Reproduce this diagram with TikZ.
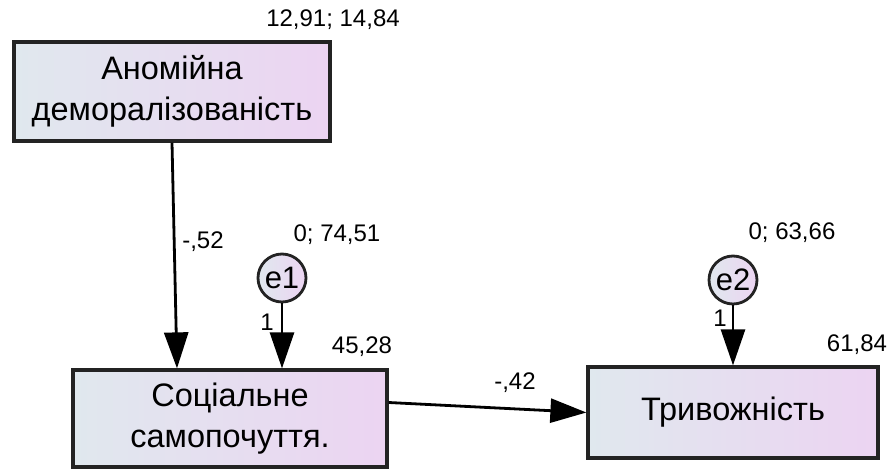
\documentclass[tikz,border=0pt]{standalone}
\usepackage{fontspec}
\setmainfont{Liberation Sans}
\usetikzlibrary{arrows.meta,positioning}

\definecolor{boxleft}{RGB}{224,232,238}
\definecolor{boxright}{RGB}{236,212,242}
\definecolor{edgegray}{RGB}{35,35,35}

\tikzset{
  varbox/.style={draw=edgegray, line width=3.2pt, left color=boxleft, right color=boxright,
    align=center, inner sep=0pt, font=\fontsize{32.5}{41}\selectfont},
  errnode/.style={circle, draw=edgegray, line width=2.8pt, left color=boxleft, right color=boxright,
    minimum size=48pt, inner sep=0pt, font=\fontsize{31}{32}\selectfont},
  path/.style={line width=2.8pt, -{Triangle[length=36pt,width=24pt]}},
  est/.style={font=\fontsize{24}{26}\selectfont, inner sep=0pt}
}

\begin{document}
\begin{tikzpicture}[x=1pt,y=-1pt]
            \useasboundingbox (0,0) rectangle (892,470);

            % observed variables
            \node[varbox, minimum width=316pt, minimum height=99pt] (anom) at (172,91.5)
              {Аномійна\\деморалізованість};
            \node[varbox, minimum width=314pt, minimum height=97pt] (soc) at (230,418.5)
              {Соціальне\\самопочуття.};
            \node[varbox, minimum width=290pt, minimum height=91pt] (anx) at (733,412.5)
              {Тривожність};

            % residuals
            \node[errnode] (e1) at (282,278) {e1};
            \node[errnode] (e2) at (733,280) {e2};

            \coordinate (socin) at ([xshift=-53pt]soc.north);
            \coordinate (socout) at ([yshift=16pt]soc.east);

            % paths
            \draw[path] (anom.south) -- (socin);
            \draw[path] (e1) -- (e1 |- soc.north);
            \draw[path] (e2) -- (anx.north);
            \draw[path] (socout) -- (anx.west);

            % estimates
            \node[est] (anomvar) at (333,20) {12,91; 14,84};
            \node[est] (w52) at (203,242) {-,52};
            \node[est] (e1var) at (337,235) {0; 74,51};
            \node[est] (one1) at (267,322) {1};
            \node[est] (socr) at (362,347) {45,28};
            \node[est] (w42) at (515,383) {-,42};
            \node[est] (e2var) at (792,233) {0; 63,66};
            \node[est] (one2) at (720,318) {1};
            \node[est] (anxr) at (857,345) {61,84};
          \end{tikzpicture}
\end{document}
